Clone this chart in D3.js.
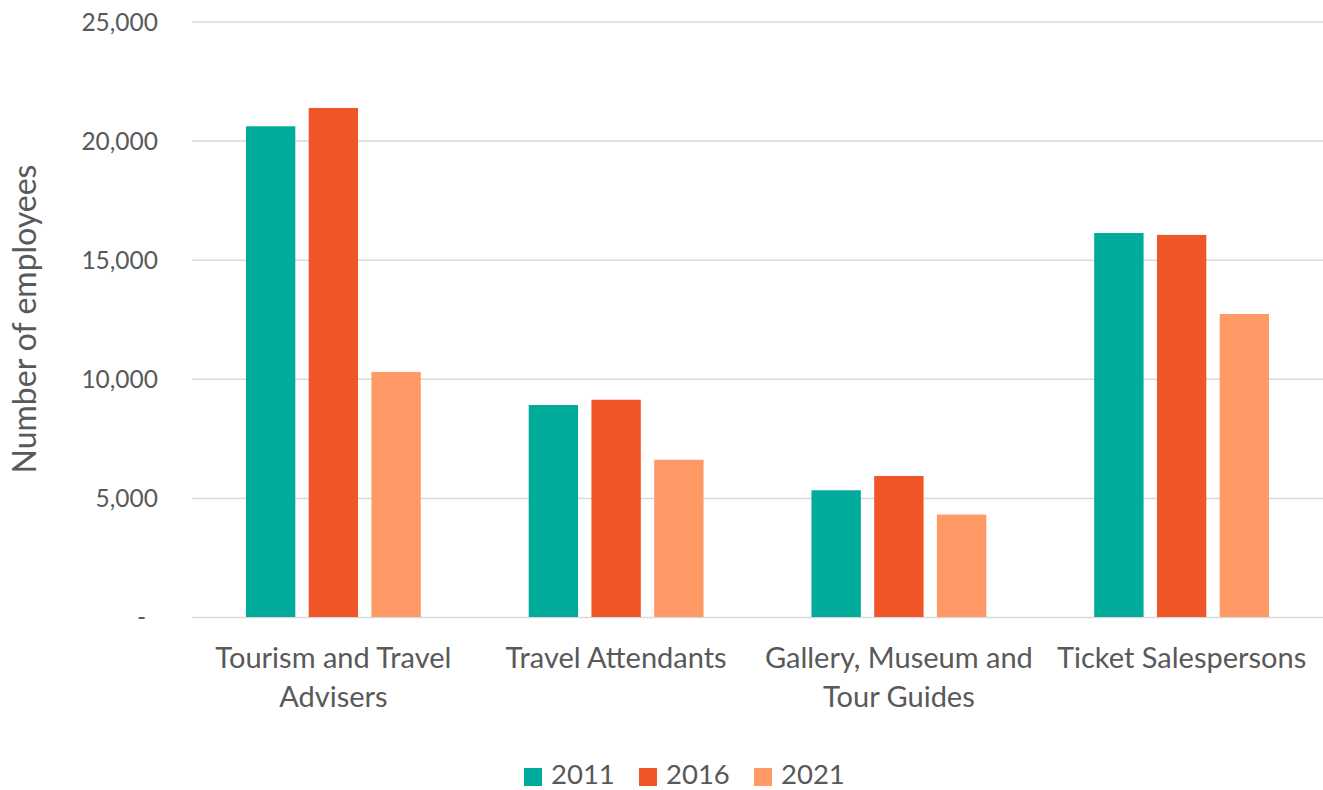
<!DOCTYPE html>
<html>
<head>
<meta charset="utf-8">
<script src="https://cdn.jsdelivr.net/npm/d3@7"></script>
<style>
  html, body { margin: 0; padding: 0; background: #fff; }
  svg { display: block; }
  text { font-family: Lato, "Open Sans", sans-serif; fill: #595959; }
</style>
</head>
<body>
<svg id="chart" width="1323" height="790"></svg>
<script>
// data
const categories = ["Tourism and Travel Advisers", "Travel Attendants", "Gallery, Museum and Tour Guides", "Ticket Salespersons"];
const categoryLines = [["Tourism and Travel", "Advisers"], ["Travel Attendants"], ["Gallery, Museum and", "Tour Guides"], ["Ticket Salespersons"]];
const years = ["2011", "2016", "2021"];
const values2011 = [20600, 8900, 5320, 16120];
const values2016 = [21370, 9120, 5920, 16040];
const values2021 = [10290, 6600, 4300, 12720];
const yTicks = [0, 5000, 10000, 15000, 20000, 25000];
const colors = ["#00ab9b", "#f05527", "#ff9966"];

const series = [values2011, values2016, values2021];

const svg = d3.select('#chart');
// plot area edges (top/left are taken by window globals, so prefix them)
const plotLeft = 192, plotRight = 1323, plotTop = 21.5, plotBottom = 617;

const y = d3.scaleLinear().domain([0, 25000]).range([plotBottom, plotTop]);
const x0 = d3.scaleBand().domain(categories).range([plotLeft, plotRight]);
const x1 = d3.scaleBand().domain(years).range([0, x0.bandwidth()])
             .paddingInner(0.213).paddingOuter(0.86);
const color = d3.scaleOrdinal().domain(years).range(colors);

// gridlines (the zero line is drawn the same way)
svg.append('g')
   .attr('transform', `translate(${plotLeft},0)`)
   .call(d3.axisLeft(y).tickValues(yTicks).tickSize(-(plotRight - plotLeft)).tickFormat(''))
   .call(g => g.select('.domain').remove())
   .call(g => g.selectAll('line').attr('stroke', '#d9d9d9').attr('stroke-width', 1.5));

// y tick labels
const fmt = d3.format(',');
svg.append('g')
   .attr('transform', `translate(158,0)`)
   .call(d3.axisLeft(y).tickValues(yTicks).tickSize(0).tickPadding(0)
           .tickFormat(d => d === 0 ? '-' : fmt(d)))
   .call(g => g.select('.domain').remove())
   .call(g => g.selectAll('text')
               .attr('font-size', 24.5)
               .attr('fill', '#595959')
               .attr('font-family', 'Lato, sans-serif')
               .attr('dx', d => d === 0 ? -12 : 0)
               .attr('dy', '0.36em'));

// bars
const groups = svg.append('g').selectAll('g')
  .data(categories)
  .join('g')
  .attr('transform', c => `translate(${x0(c)},0)`);

groups.selectAll('rect')
  .data((c, i) => years.map((yr, j) => ({ year: yr, value: series[j][i] })))
  .join('rect')
  .attr('x', d => x1(d.year))
  .attr('width', x1.bandwidth())
  .attr('y', d => y(d.value))
  .attr('height', d => y(0) - y(d.value))
  .attr('fill', d => color(d.year));

// category labels
svg.append('g').selectAll('text')
  .data(categories)
  .join('text')
  .attr('text-anchor', 'middle')
  .attr('font-size', 29)
  .attr('x', c => x0(c) + x0.bandwidth() / 2)
  .attr('y', 668)
  .selectAll('tspan')
  .data((c, i) => categoryLines[i])
  .join('tspan')
  .attr('x', function () { return d3.select(this.parentNode).attr('x'); })
  .attr('dy', (d, i) => i === 0 ? 0 : 39)
  .text(d => d);

// axis title
svg.append('text')
  .attr('transform', 'translate(36,319) rotate(-90)')
  .attr('text-anchor', 'middle')
  .attr('font-size', 32)
  .text('Number of employees');

// legend
const legendX = [524, 639, 754];
const legend = svg.append('g').selectAll('g')
  .data(years)
  .join('g')
  .attr('transform', (d, i) => `translate(${legendX[i]},0)`);
legend.append('rect')
  .attr('x', 0).attr('y', 768).attr('width', 18).attr('height', 18)
  .attr('fill', d => color(d));
legend.append('text')
  .attr('x', 27).attr('y', 784)
  .attr('font-size', 27.5)
  .text(d => d);
</script>
</body>
</html>
